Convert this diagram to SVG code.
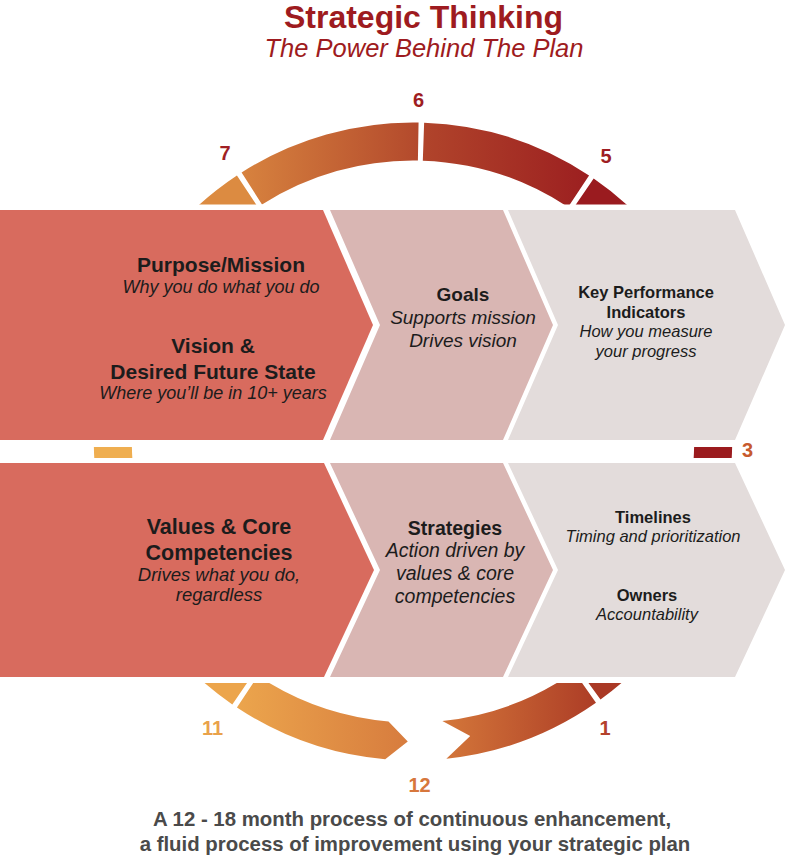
<svg xmlns="http://www.w3.org/2000/svg" width="792" height="858" viewBox="0 0 792 858">
<style>
text{font-family:"Liberation Sans",Arial,Helvetica,sans-serif;text-anchor:middle;fill:#1c1c1c}
.b{font-weight:bold}
.i{font-style:italic}
.num{font-weight:bold;font-size:20px}
.title{fill:#9e1b20}
.foot{fill:#4a4a4a;font-weight:bold;font-size:20.4px}
.c1{fill:#d86b5e}
.c2{fill:#d9b6b3}
.c3{fill:#e3dcdb}
</style>
<defs>
<clipPath id="ringClip">
<rect x="0" y="0" width="792" height="204.5"/>
<rect x="0" y="447" width="792" height="11"/>
<rect x="0" y="683" width="792" height="175"/>
</clipPath>
<linearGradient id="gTL" gradientUnits="userSpaceOnUse" x1="237" y1="0" x2="420" y2="0">
<stop offset="0" stop-color="#d8843f"/><stop offset="1" stop-color="#b3492c"/>
</linearGradient>
<linearGradient id="gTR" gradientUnits="userSpaceOnUse" x1="420" y1="0" x2="590" y2="0">
<stop offset="0" stop-color="#b1452b"/><stop offset="1" stop-color="#9c1f20"/>
</linearGradient>
<linearGradient id="gBL" gradientUnits="userSpaceOnUse" x1="233" y1="0" x2="408" y2="0">
<stop offset="0" stop-color="#eca64d"/><stop offset="1" stop-color="#d77c3e"/>
</linearGradient>
<linearGradient id="gBR" gradientUnits="userSpaceOnUse" x1="442" y1="0" x2="598" y2="0">
<stop offset="0" stop-color="#d4773a"/><stop offset="1" stop-color="#ac3c26"/>
</linearGradient>
</defs>
<rect width="792" height="858" fill="#ffffff"/>

<g id="title">
<text class="title b" x="423.5" y="28" font-size="32">Strategic Thinking</text>
<text class="title i" x="424" y="57" font-size="25.5">The Power Behind The Plan</text>
</g>

<g id="cycle" clip-path="url(#ringClip)">
<path fill="#dc8b41" d="M113.24,332.40 A319,319 0 0 1 236.94,175.49 L257.92,207.17 A281,281 0 0 0 148.94,345.40 Z"/>
<path fill="url(#gTL)" d="M241.60,172.46 A319,319 0 0 1 418.57,122.55 L417.90,160.54 A281,281 0 0 0 262.02,204.51 Z"/>
<path fill="url(#gTR)" d="M424.13,122.69 A319,319 0 0 1 589.06,175.49 L568.08,207.17 A281,281 0 0 0 422.81,160.67 Z"/>
<path fill="#9a1b1f" d="M593.68,178.61 A319,319 0 0 1 712.76,332.40 L677.06,345.40 A281,281 0 0 0 572.16,209.93 Z"/>
<path fill="#9b1b1e" d="M721.12,358.94 A319,319 0 0 1 721.12,524.06 L684.42,514.22 A281,281 0 0 0 684.42,368.78 Z"/>
<path fill="#efae50" d="M104.88,524.06 A319,319 0 0 1 104.88,358.94 L141.58,368.78 A281,281 0 0 0 141.58,514.22 Z"/>
<path fill="#aa3925" d="M712.76,550.60 A319,319 0 0 1 600.51,699.57 L578.17,668.83 A281,281 0 0 0 677.06,537.60 Z"/>
<path fill="url(#gBR)" d="M595.98,702.82 A319,319 0 0 1 446.34,758.75 L470.24,735.98 L442.37,720.96 A281,281 0 0 0 574.18,671.70 Z"/>
<path fill="url(#gBL)" d="M236.94,707.51 A319,319 0 0 0 385.20,759.29 L407.76,741.45 L388.51,721.43 A281,281 0 0 1 257.92,675.83 Z"/>
<path fill="#eca54c" d="M232.32,704.39 A319,319 0 0 1 113.24,550.60 L148.94,537.60 A281,281 0 0 0 253.84,673.07 Z"/>
</g>

<g id="cycle-labels">
<text class="num" x="418.5" y="107" style="fill:#9e1d22">6</text>
<text class="num" x="225" y="160" style="fill:#a01f24">7</text>
<text class="num" x="606" y="163" style="fill:#9e1d22">5</text>
<text class="num" x="747.5" y="457" style="fill:#c75a2e">3</text>
<text class="num" x="605" y="735" style="fill:#b3412b">1</text>
<text class="num" x="212.5" y="735" style="fill:#e9a24b">11</text>
<text class="num" x="419.5" y="792" style="fill:#d7773c">12</text>
</g>

<g id="purpose-vision">
<path class="c1" d="M0,210 L323,210 L373,325 L323,440 L0,440 Z"/>
<text class="b" x="221" y="272" font-size="21">Purpose/Mission</text>
<text class="i" x="221" y="293" font-size="18">Why you do what you do</text>
<text class="b" x="213" y="353" font-size="21">Vision &amp;</text>
<text class="b" x="213" y="379" font-size="21">Desired Future State</text>
<text class="i" x="213" y="399" font-size="18">Where you’ll be in 10+ years</text>
</g>

<g id="goals">
<path class="c2" d="M330,210 L503,210 L553,325 L503,440 L330,440 L380,325 Z"/>
<text class="b" x="463" y="301" font-size="19">Goals</text>
<text class="i" x="463" y="324" font-size="19">Supports mission</text>
<text class="i" x="463" y="347" font-size="19">Drives vision</text>
</g>

<g id="kpi">
<path class="c3" d="M508,210 L735,210 L785,325 L735,440 L508,440 L558,325 Z"/>
<text class="b" x="646" y="298" font-size="16.5">Key Performance</text>
<text class="b" x="646" y="318" font-size="16.5">Indicators</text>
<text class="i" x="646" y="337" font-size="16.5">How you measure</text>
<text class="i" x="646" y="357" font-size="16.5">your progress</text>
</g>

<g id="values">
<path class="c1" d="M0,463 L324,463 L374,570 L324,677 L0,677 Z"/>
<text class="b" x="219" y="534" font-size="21.5">Values &amp; Core</text>
<text class="b" x="219" y="560" font-size="21.5">Competencies</text>
<text class="i" x="219" y="581" font-size="18.5">Drives what you do,</text>
<text class="i" x="219" y="601" font-size="18.5">regardless</text>
</g>

<g id="strategies">
<path class="c2" d="M330,463 L503,463 L553,570 L503,677 L330,677 L380,570 Z"/>
<text class="b" x="455" y="535" font-size="19.5">Strategies</text>
<text class="i" x="455" y="557" font-size="19.5">Action driven by</text>
<text class="i" x="455" y="580" font-size="19.5">values &amp; core</text>
<text class="i" x="455" y="603" font-size="19.5">competencies</text>
</g>

<g id="timelines-owners">
<path class="c3" d="M508,463 L735,463 L785,570 L735,677 L508,677 L558,570 Z"/>
<text class="b" x="653" y="523" font-size="16.5">Timelines</text>
<text class="i" x="653" y="542" font-size="16.5">Timing and prioritization</text>
<text class="b" x="647" y="601" font-size="16.5">Owners</text>
<text class="i" x="647" y="620" font-size="16.5">Accountability</text>
</g>

<g id="footer">
<text class="foot" x="412" y="826">A 12 - 18 month process of continuous enhancement,</text>
<text class="foot" x="415" y="851">a fluid process of improvement using your strategic plan</text>
</g>
</svg>
